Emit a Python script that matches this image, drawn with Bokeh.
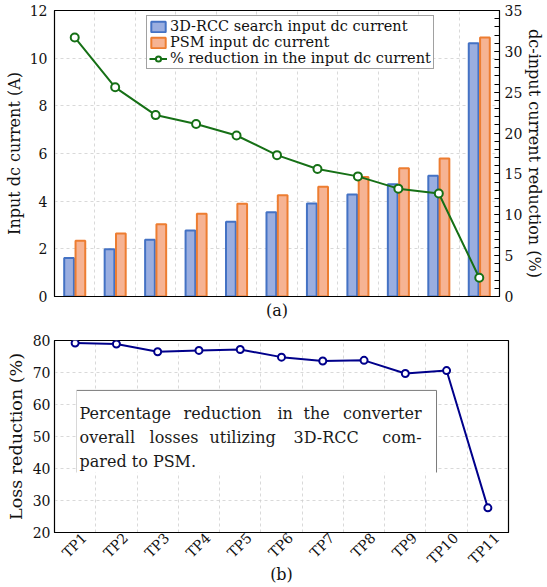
import math
import numpy as np
from bokeh.plotting import figure
from bokeh.layouts import column
from bokeh.models import (Range1d, LinearAxis, FixedTicker, Legend, LegendItem,
                          SingleIntervalTicker, ColumnDataSource)
from bokeh.core.properties import value
from bokeh.embed import file_html
from bokeh.resources import INLINE

# ---- data -------------------------------------------------------------
points = ["TP1", "TP2", "TP3", "TP4", "TP5", "TP6", "TP7", "TP8", "TP9", "TP10", "TP11"]
rcc_current = [1.62, 1.98, 2.38, 2.77, 3.14, 3.53, 3.90, 4.28, 4.71, 5.07, 10.63]
psm_current = [2.34, 2.64, 3.03, 3.47, 3.89, 4.25, 4.61, 5.01, 5.38, 5.79, 10.87]
current_reduction = [31.7, 25.6, 22.2, 21.1, 19.7, 17.3, 15.6, 14.7, 13.2, 12.6, 2.3]
loss_reduction = [79.2, 78.9, 76.5, 76.9, 77.2, 74.8, 73.6, 73.8, 69.7, 70.6, 27.7]

left_ticks = [0, 2, 4, 6, 8, 10, 12]
loss_ticks = [20, 30, 40, 50, 60, 70, 80]

FONT = "DejaVu Serif"
BLUE_FILL, BLUE_LINE = "#9aaee0", "#4472c4"
ORANGE_FILL, ORANGE_LINE = "#f6b393", "#ed7d31"
GREEN = "#167016"
NAVY = "#00008b"
GRID = "#cfcfcf"

n = len(points)
centers = np.arange(n) + 0.5
bounds = list(range(1, n))


def style_common(p):
    p.outline_line_color = "black"
    p.outline_line_width = 1.2
    p.background_fill_color = "white"
    p.border_fill_color = "white"
    p.grid.grid_line_color = GRID
    p.grid.grid_line_dash = "3 3"
    p.grid.grid_line_width = 0.8
    for ax in p.axis:
        ax.axis_line_color = "black"
        ax.major_label_text_font = FONT
        ax.major_label_text_font_size = "14px"
        ax.major_label_text_color = "#111111"
        ax.axis_label_text_font = FONT
        ax.axis_label_text_font_style = "normal"
        ax.axis_label_text_color = "#111111"
        ax.axis_label_text_font_size = "16px"
        ax.major_tick_in = 0
        ax.major_tick_out = 0
        ax.minor_tick_in = 0
        ax.minor_tick_out = 0


# ---- (a) input dc current --------------------------------------------
p1 = figure(width=547, height=322, x_range=(0, n), y_range=(0, 12),
            output_backend="svg", toolbar_location=None,
            min_border_left=53, min_border_right=40,
            min_border_top=10, min_border_bottom=23)
p1.extra_y_ranges = {"pct": Range1d(0, 35)}
p1.add_layout(LinearAxis(y_range_name="pct",
                         ticker=SingleIntervalTicker(interval=5, num_minor_ticks=5),
                         axis_label="dc-input current reduction (%)"), "right")

src = ColumnDataSource(dict(x=centers, x_rcc=centers - 0.14, x_psm=centers + 0.14,
                            rcc=rcc_current, psm=psm_current, red=current_reduction))
b1 = p1.vbar(x="x_rcc", top="rcc", width=0.24, source=src,
             fill_color=BLUE_FILL, line_color=BLUE_LINE, line_width=2)
b2 = p1.vbar(x="x_psm", top="psm", width=0.24, source=src,
             fill_color=ORANGE_FILL, line_color=ORANGE_LINE, line_width=2)
l1 = p1.line(x="x", y="red", source=src, y_range_name="pct",
             line_color=GREEN, line_width=2)
m1 = p1.scatter(x="x", y="red", source=src, y_range_name="pct", size=8,
                fill_color="white", line_color=GREEN, line_width=2)

style_common(p1)
p1.yaxis[0].ticker = FixedTicker(ticks=left_ticks)
p1.yaxis[0].axis_label = "Input dc current (A)"
p1.yaxis[0].major_label_standoff = 7
p1.yaxis[0].axis_label_standoff = 3
ra = p1.yaxis[1]
ra.major_tick_in = 5
ra.minor_tick_in = 5
ra.major_label_standoff = 5
ra.axis_label_standoff = 0
p1.xaxis.ticker = FixedTicker(ticks=[])
p1.xaxis.axis_label = "(a)"
p1.xaxis.axis_label_standoff = 4
p1.xgrid.ticker = FixedTicker(ticks=bounds)
p1.ygrid.ticker = FixedTicker(ticks=left_ticks)

legend = Legend(items=[
    LegendItem(label="3D-RCC search input dc current", renderers=[b1]),
    LegendItem(label="PSM input dc current", renderers=[b2]),
    LegendItem(label="% reduction in the input dc current", renderers=[l1, m1]),
], location=(92, 227))
legend.label_text_font = FONT
legend.label_text_font_size = "14.5px"
legend.label_text_color = "#111111"
legend.label_height = 16
legend.glyph_height = 13
legend.glyph_width = 18
legend.label_standoff = 3
legend.padding = 2
legend.spacing = 0
legend.margin = 0
legend.border_line_color = "#444444"
legend.border_line_width = 1
legend.background_fill_alpha = 1
p1.add_layout(legend)

# ---- (b) loss reduction ----------------------------------------------
p2 = figure(frame_width=454, frame_height=192, x_range=(0, n), y_range=(20, 80),
            output_backend="svg", toolbar_location=None,
            min_border_left=54, min_border_right=39,
            min_border_top=18, min_border_bottom=50)
p2.line(x=centers, y=loss_reduction, line_color=NAVY, line_width=2)
p2.scatter(x=centers, y=loss_reduction, size=7, fill_color="white",
           line_color=NAVY, line_width=2)
style_common(p2)
p2.yaxis.ticker = FixedTicker(ticks=loss_ticks)
p2.yaxis.axis_label = "Loss reduction (%)"
p2.yaxis.axis_label_text_font_size = "17.5px"
p2.yaxis.major_label_standoff = 4
p2.yaxis.axis_label_standoff = 4
# tick-label anchors sit slightly right of each point so the slanted
# labels end up centred under their points
label_pos = centers + 0.22
p2.xaxis.ticker = FixedTicker(ticks=list(label_pos))
p2.xaxis.major_label_overrides = {float(c): t for c, t in zip(label_pos, points)}
p2.xaxis.major_label_orientation = math.pi / 4
p2.xaxis.major_label_standoff = 3
p2.xaxis.axis_label = "(b)"
p2.xaxis.axis_label_standoff = -11
p2.xgrid.ticker = FixedTicker(ticks=bounds)
p2.ygrid.ticker = FixedTicker(ticks=loss_ticks)

# caption box with justified text
p2.quad(left=0.533, right=9.256, top=64.4, bottom=38.75,
        fill_color="white", line_color=None)
p2.line(x=[0.533, 9.256, 9.256], y=[64.4, 64.4, 38.75],
        line_color="#7a7a7a", line_width=1)
p2.line(x=[0.533, 0.533], y=[64.4, 38.75], line_color="#d8d8d8", line_width=1)

words_left = ["Percentage", "reduction", "in", "the",
              "overall", "losses", "utilizing", "3D-RCC",
              "pared to PSM."]
words_left_x = [0.606, 3.126, 5.403, 6.033,
                0.606, 2.302, 3.756, 5.791,
                0.606]
words_left_y = [57.1, 57.1, 57.1, 57.1,
                49.6, 49.6, 49.6, 49.6,
                42.1]
p2.text(x=words_left_x, y=words_left_y, text=words_left,
        text_font=value(FONT), text_font_size="16px",
        text_align="left", text_baseline="alphabetic", text_color="#1a1a1a")
p2.text(x=[8.893, 8.893], y=[57.1, 49.6], text=["converter", "com-"],
        text_font=value(FONT), text_font_size="16px",
        text_align="right", text_baseline="alphabetic", text_color="#1a1a1a")

layout = column(p1, p2, spacing=0)
open("out.html", "w").write(file_html(layout, INLINE))
